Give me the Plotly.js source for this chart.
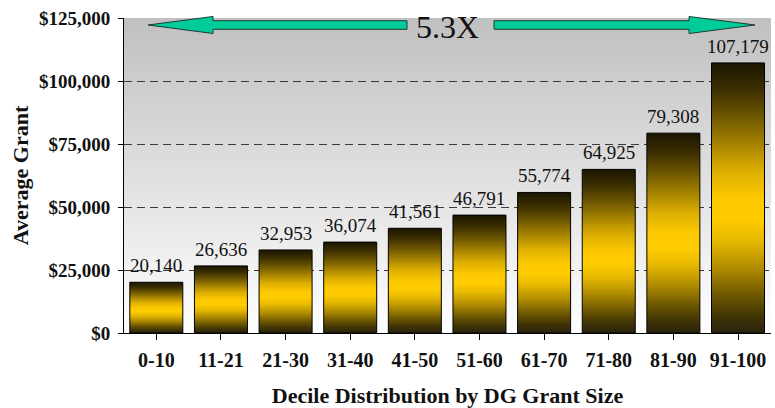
<!DOCTYPE html>
<html>
<head>
<meta charset="utf-8">
<script src="https://cdn.plot.ly/plotly-3.0.1.min.js"></script>
<style>
  html, body { margin: 0; padding: 0; background: #ffffff; }
  #chart { width: 775px; height: 408px; }
</style>
</head>
<body>
<div id="chart"></div>
<script>
// ---- data ----
var categories = ["0-10", "11-21", "21-30", "31-40", "41-50", "51-60", "61-70", "71-80", "81-90", "91-100"];
var averageGrant = [20140, 26636, 32953, 36074, 41561, 46791, 55774, 64925, 79308, 107179];
var multipleLabel = "5.3X";
var xTitle = "Decile Distribution by DG Grant Size";
var yTitle = "Average Grant";

var serif = "Liberation Serif, Times New Roman, serif";

var trace = {
  type: "bar",
  x: categories,
  y: averageGrant,
  marker: { color: "#ffcc00", line: { color: "#000000", width: 1 } },
  hoverinfo: "none"
};

var annotations = categories.map(function (c, i) {
  return {
    x: c, y: averageGrant[i], xref: "x", yref: "y",
    text: averageGrant[i].toLocaleString("en-US"),
    showarrow: false, yanchor: "bottom", yshift: 4,
    font: { family: serif, size: 19, color: "#111111" }
  };
});

annotations.push({
  x: 0.5, y: 0.972, xref: "paper", yref: "paper",
  text: multipleLabel, showarrow: false, xanchor: "center", yanchor: "middle",
  font: { family: serif, size: 32, color: "#111111" }
});

// double arrow decoration (paper coords)
var arrowStyle = { fillcolor: "#00cc99", line: { color: "#1d3d33", width: 1 } };
var shapes = [
  Object.assign({
    type: "path", xref: "paper", yref: "paper", layer: "above",
    path: "M0.0371,0.9778 L0.1376,1.0048 L0.1376,0.9914 L0.4374,0.9914 L0.4374,0.9641 L0.1376,0.9641 L0.1376,0.9508 Z"
  }, arrowStyle),
  Object.assign({
    type: "path", xref: "paper", yref: "paper", layer: "above",
    path: "M0.9753,0.9778 L0.8733,1.0048 L0.8733,0.9914 L0.5719,0.9914 L0.5719,0.9641 L0.8733,0.9641 L0.8733,0.9508 Z"
  }, arrowStyle)
];

var boundaryTicks = categories.map(function (c, i) { return i + 0.5; });

var layout = {
  width: 775, height: 408,
  margin: { l: 124, r: 4, t: 18, b: 75 },
  paper_bgcolor: "#ffffff",
  plot_bgcolor: "#e0e0e0",
  showlegend: false,
  bargap: 0.18,
  font: { family: serif, color: "#111111" },
  xaxis: {
    type: "category",
    showline: true, linecolor: "#000000", linewidth: 1,
    ticks: "outside", ticklen: 6, tickcolor: "#000000",
    ticklabelstandoff: 3,
    showgrid: false,
    tickfont: { family: serif, size: 20, color: "#111111", weight: "bold" },
    title: { text: "<b>" + xTitle + "</b>", font: { family: serif, size: 22, color: "#111111" }, standoff: 20 }
  },
  xaxis2: {
    overlaying: "x", anchor: "y", side: "bottom",
    range: [-0.5, categories.length - 0.5],
    tickmode: "array", tickvals: boundaryTicks,
    ticks: "inside", ticklen: 4, tickcolor: "#000000",
    showticklabels: false, showgrid: false, zeroline: false, showline: false
  },
  yaxis: {
    range: [0, 125000], dtick: 25000, tick0: 0,
    tickprefix: "$", tickformat: ",d",
    showline: true, linecolor: "#000000", linewidth: 1,
    ticks: "outside", ticklen: 5, tickcolor: "#000000",
    ticklabelstandoff: 4,
    showgrid: true, gridcolor: "#3a3a3a", gridwidth: 1, griddash: "8px,5px",
    zeroline: false,
    tickfont: { family: serif, size: 19, color: "#111111", weight: "bold" },
    title: { text: "<b>" + yTitle + "</b>", font: { family: serif, size: 22, color: "#111111" }, standoff: 4 }
  },
  annotations: annotations,
  shapes: shapes
};

var gd = document.getElementById("chart");
Plotly.newPlot(gd, [trace], layout, { displayModeBar: false, staticPlot: true }).then(function () {
  var NS = "http://www.w3.org/2000/svg";
  var svg = gd.querySelector("svg.main-svg");
  var defs = svg.querySelector("defs");
  if (!defs) { defs = document.createElementNS(NS, "defs"); svg.insertBefore(defs, svg.firstChild); }
  function grad(id, stops) {
    var g = document.createElementNS(NS, "linearGradient");
    g.setAttribute("id", id);
    g.setAttribute("x1", "0"); g.setAttribute("y1", "0");
    g.setAttribute("x2", "0"); g.setAttribute("y2", "1");
    stops.forEach(function (s) {
      var st = document.createElementNS(NS, "stop");
      st.setAttribute("offset", s[0]);
      st.setAttribute("stop-color", s[1]);
      g.appendChild(st);
    });
    defs.appendChild(g);
  }
  grad("barGrad", [
    [0, "#1a1500"], [0.1, "#3d3000"], [0.2, "#6e5700"], [0.3, "#a68300"],
    [0.4, "#dcae00"], [0.5, "#fcc800"], [0.58, "#ffcc00"], [0.66, "#e6b800"],
    [0.76, "#b08c00"], [0.86, "#6e5800"], [0.94, "#3f3305"], [1, "#2a2410"]
  ]);
  grad("bgGrad", [[0, "#c0c0c0"], [1, "#ffffff"]]);
  gd.querySelectorAll(".barlayer .point path").forEach(function (p) {
    p.style.fill = "url(#barGrad)";
  });
  gd.querySelectorAll("rect.bg").forEach(function (r) {
    r.style.fill = "url(#bgGrad)";
  });
});
</script>
</body>
</html>
